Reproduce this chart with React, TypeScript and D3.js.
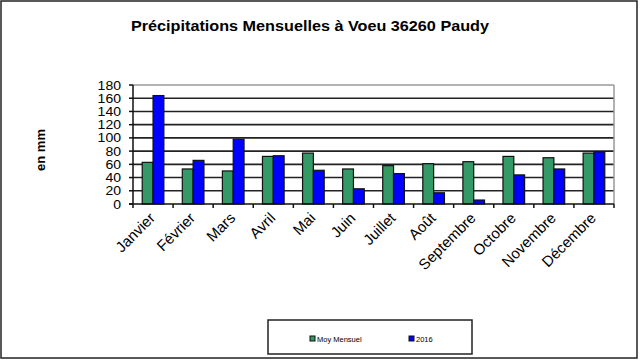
import React from "react";
import * as d3 from "d3";

const months = ["Janvier", "Février", "Mars", "Avril", "Mai", "Juin", "Juillet", "Août", "Septembre", "Octobre", "Novembre", "Décembre"];
const moyMensuel = [63, 53, 50, 72, 77, 53, 58, 61, 64, 72, 70, 77];
const year2016 = [164, 66, 98, 73, 51, 23, 46, 17, 6, 44, 53, 79];
const yTicks = [0, 20, 40, 60, 80, 100, 120, 140, 160, 180];
const seriesNames = ["Moy Mensuel", "2016"];
const colors = ["#339966", "#0000FF"];

export default function App() {
  const W = 640, H = 360;
  const left = 133, right = 614, top = 85, bottom = 204;
  const x = d3.scaleBand<string>().domain(months).range([left, right]).paddingInner(0).paddingOuter(0);
  const y = d3.scaleLinear().domain([0, 180]).range([bottom, top]);
  const bw = x.bandwidth();
  const barW = bw * 0.27;
  const font = "Arial, 'Liberation Sans', sans-serif";
  const series = [moyMensuel, year2016];

  return (
    <svg width={W} height={H} style={{ position: "absolute", left: 0, top: 0, background: "#fff" }} fontFamily={font}>
      <rect x={1} y={1} width={636} height={357} fill="#fff" stroke="#222" strokeWidth={1.5} />
      <text x={310} y={31} textAnchor="middle" fontSize={15} fontWeight="bold" textLength={358} lengthAdjust="spacingAndGlyphs">
        Précipitations Mensuelles à Voeu 36260 Paudy
      </text>
      <text transform={`translate(45,150) rotate(-90)`} textAnchor="middle" fontSize={13} fontWeight="bold">en mm</text>

      {/* grid */}
      {yTicks.filter(t => t > 0 && t < 180).map(t => (
        <line key={t} x1={left} x2={right} y1={y(t)} y2={y(t)} stroke="#222" strokeWidth={1.6} />
      ))}
      <line x1={left} x2={right} y1={y(180)} y2={y(180)} stroke="#999" strokeWidth={1.5} />
      <line x1={right} x2={right} y1={top} y2={bottom} stroke="#999" strokeWidth={1.5} />

      {/* bars */}
      {series.map((s, si) =>
        s.map((v, i) => {
          const cx = (x(months[i]) as number) + bw / 2;
          const bx = cx - barW + si * barW;
          return (
            <rect key={`${si}-${i}`} x={bx} y={y(v)} width={barW} height={y(0) - y(v)} fill={colors[si]} stroke="#111" strokeWidth={1.2} />
          );
        })
      )}

      {/* axes */}
      <line x1={left} x2={left} y1={top} y2={bottom + 4} stroke="#111" strokeWidth={1.5} />
      <line x1={left - 4} x2={right} y1={bottom} y2={bottom} stroke="#111" strokeWidth={1.5} />
      {yTicks.map(t => (
        <g key={t}>
          <line x1={left - 4} x2={left} y1={y(t)} y2={y(t)} stroke="#111" strokeWidth={1.5} />
          <text x={121} y={y(t) + 4.5} textAnchor="end" fontSize={12.5} textLength={String(t).length * 7.8} lengthAdjust="spacingAndGlyphs">{t}</text>
        </g>
      ))}
      {months.map((m, i) => {
        const x0 = (x(m) as number) + bw;
        return <line key={m} x1={x0} x2={x0} y1={bottom} y2={bottom + 4} stroke="#111" strokeWidth={1.5} />;
      })}
      {months.map(m => {
        const cx = (x(m) as number) + bw / 2 + 3;
        return (
          <text key={m} transform={`translate(${cx},${bottom + 15}) rotate(-45)`} textAnchor="end" fontSize={15}>{m}</text>
        );
      })}

      {/* legend */}
      <rect x={268} y={320} width={204} height={34} fill="#fff" stroke="#222" strokeWidth={1.5} />
      {seriesNames.map((n, i) => {
        const lx = i === 0 ? 310 : 409;
        return (
          <g key={n}>
            <rect x={lx} y={336} width={5} height={5} fill={colors[i]} stroke="#111" strokeWidth={1} />
            <text x={lx + 7} y={341.5} fontSize={7.5}>{n}</text>
          </g>
        );
      })}
    </svg>
  );
}
